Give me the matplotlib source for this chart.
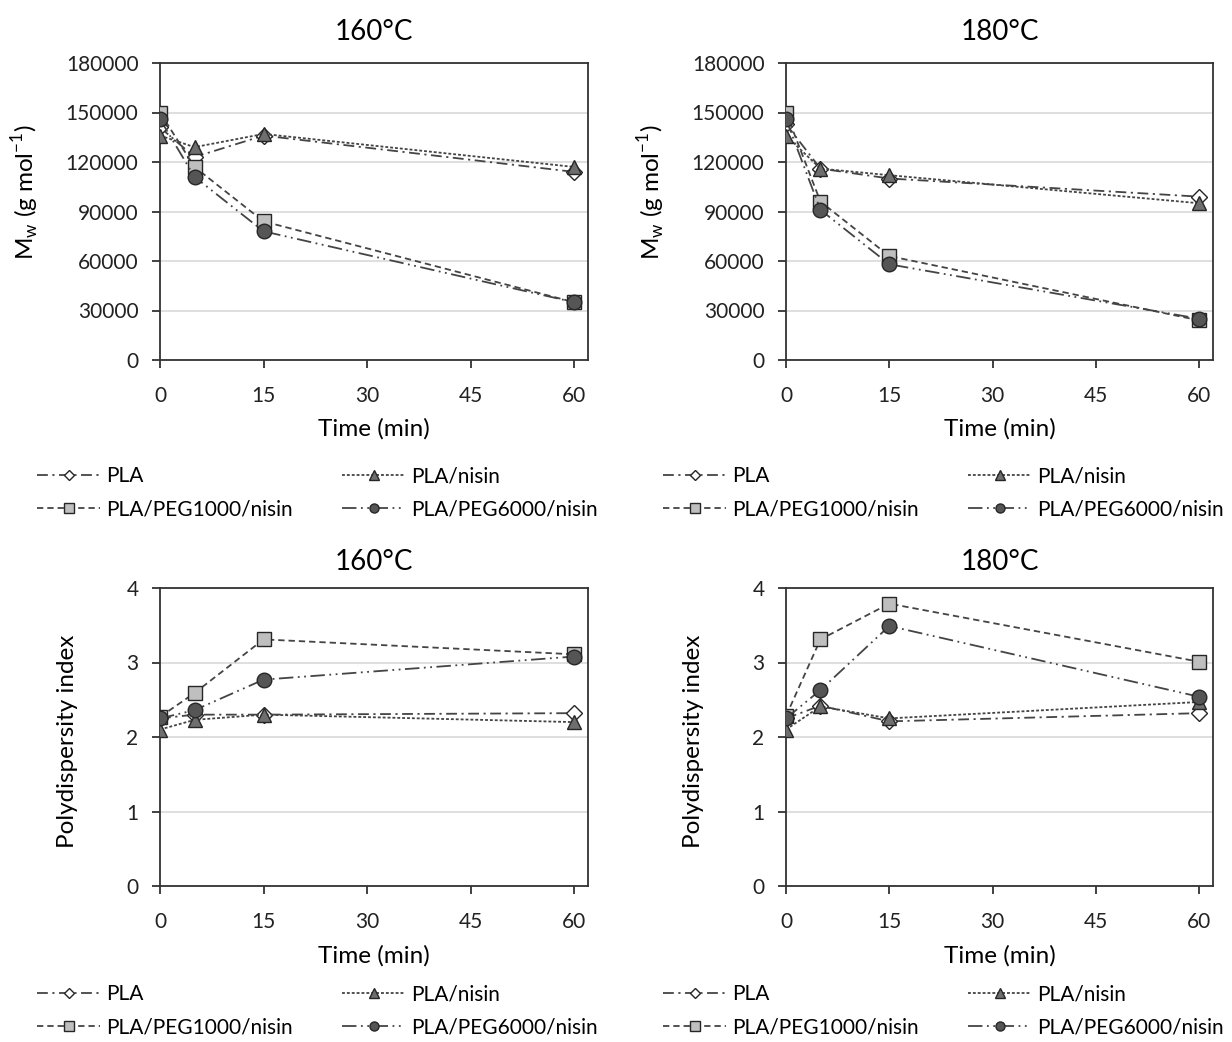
import matplotlib
matplotlib.use("Agg")
import matplotlib.pyplot as plt

plt.rcParams['font.family'] = ['Lato', 'DejaVu Sans']
plt.rcParams['mathtext.fontset'] = 'custom'
plt.rcParams['mathtext.rm'] = 'Lato'

time = [0, 5, 15, 60]
series_names = ["PLA", "PLA/nisin", "PLA/PEG1000/nisin", "PLA/PEG6000/nisin"]

# Mw (g/mol)
mw_160_pla = [141000, 123000, 136000, 114000]
mw_160_nisin = [136000, 129000, 137000, 117000]
mw_160_peg1000 = [150000, 117000, 84000, 35000]
mw_160_peg6000 = [146000, 111000, 78000, 35000]

mw_180_pla = [143000, 116000, 110000, 99000]
mw_180_nisin = [136000, 116000, 112000, 95000]
mw_180_peg1000 = [150000, 96000, 63000, 24000]
mw_180_peg6000 = [146000, 91000, 58000, 25000]

# Polydispersity index
pdi_160_pla = [2.25, 2.30, 2.30, 2.32]
pdi_160_nisin = [2.10, 2.23, 2.30, 2.20]
pdi_160_peg1000 = [2.27, 2.59, 3.31, 3.11]
pdi_160_peg6000 = [2.25, 2.36, 2.77, 3.08]

pdi_180_pla = [2.25, 2.42, 2.21, 2.32]
pdi_180_nisin = [2.10, 2.41, 2.25, 2.47]
pdi_180_peg1000 = [2.28, 3.31, 3.79, 3.01]
pdi_180_peg6000 = [2.25, 2.63, 3.49, 2.54]

titles = ["160°C", "180°C", "160°C", "180°C"]
x_ticks = [0, 15, 30, 45, 60]
mw_ticks = [0, 30000, 60000, 90000, 120000, 150000, 180000]
pdi_ticks = [0, 1, 2, 3, 4]

styles = {
    "PLA": dict(ls=(0, (6, 2.5, 1.2, 2.5)), marker="D", mfc="white", ms=8.5),
    "PLA/nisin": dict(ls=(0, (1.6, 1.1)), marker="^", mfc="#6e6e6e", ms=10.5),
    "PLA/PEG1000/nisin": dict(ls=(0, (3.5, 2.2)), marker="s", mfc="#bfbfbf", ms=10.5),
    "PLA/PEG6000/nisin": dict(ls=(0, (8, 2.5, 1, 2.5, 1, 2.5)), marker="o", mfc="#555555", ms=10.5),
}

fig = plt.figure(figsize=(12.32, 10.42), dpi=100)
W, H = 1232, 1042
boxes = [(160, 63, 588, 360), (786, 63, 1213, 360),
         (160, 588, 588, 886), (786, 588, 1213, 886)]
data = [
    [mw_160_pla, mw_160_nisin, mw_160_peg1000, mw_160_peg6000],
    [mw_180_pla, mw_180_nisin, mw_180_peg1000, mw_180_peg6000],
    [pdi_160_pla, pdi_160_nisin, pdi_160_peg1000, pdi_160_peg6000],
    [pdi_180_pla, pdi_180_nisin, pdi_180_peg1000, pdi_180_peg6000],
]
legend_pos = [(29, 458), (655, 458), (29, 976), (655, 976)]

for i, (l, t, r, b) in enumerate(boxes):
    ax = fig.add_axes([l / W, 1 - b / H, (r - l) / W, (b - t) / H])
    handles = {}
    for name, ys in zip(series_names, data[i]):
        st = styles[name]
        h, = ax.plot(time, ys, color="#444444", lw=1.3, linestyle=st["ls"],
                     marker=st["marker"], mfc=st["mfc"], mec="#262626", mew=1.0,
                     ms=st["ms"], zorder=3)
        handles[name] = h
    ax.set_xlim(0, 62)
    ax.set_xticks(x_ticks)
    if i < 2:
        ax.set_ylim(0, 180000)
        ax.set_yticks(mw_ticks)
        ax.set_ylabel(r"M$_\mathregular{w}$ (g mol$^\mathregular{-1}$)", fontsize=17.5)
        ax.yaxis.set_label_coords(-0.276, 0.566)
    else:
        ax.set_ylim(0, 4)
        ax.set_yticks(pdi_ticks)
        ax.set_ylabel("Polydispersity index", fontsize=17.5)
        ax.yaxis.set_label_coords(-0.192, 0.487)
    ax.grid(axis="y", color="#d9d9d9", lw=1.2, zorder=0)
    ax.set_axisbelow(True)
    for sp in ax.spines.values():
        sp.set_color("#333333")
        sp.set_linewidth(1.3)
    ax.tick_params(axis="both", direction="out", length=6, width=1.3, color="#333333",
                   labelsize=15, labelcolor="#222222")
    ax.tick_params(axis="x", pad=13)
    ax.tick_params(axis="y", pad=9.5)
    ax.set_xlabel("Time (min)", fontsize=17.5)
    ax.xaxis.set_label_coords(0.5, -0.197)
    ax.set_title(titles[i], fontsize=20, pad=16.5 if i < 2 else 13)
    order = ["PLA", "PLA/PEG1000/nisin", "PLA/nisin", "PLA/PEG6000/nisin"]
    lx, ly = legend_pos[i]
    fig.legend([handles[n] for n in order], order, ncol=2, loc="upper left",
               bbox_to_anchor=(lx / W, 1 - ly / H), frameon=False, fontsize=15,
               markerscale=0.62, handlelength=3.0, handletextpad=0.3,
               columnspacing=2.38, labelspacing=0.62, borderaxespad=0)

fig.savefig("out.png", dpi=100)
